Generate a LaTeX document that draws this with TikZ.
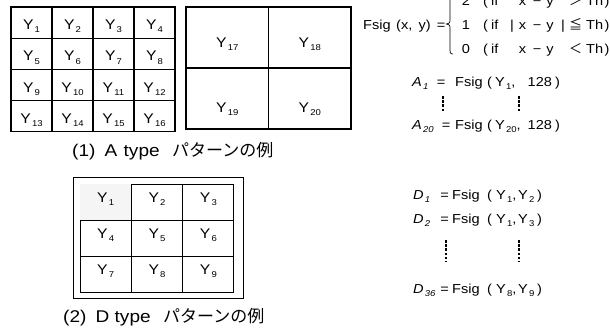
\documentclass[tikz,border=0pt]{standalone}
\usepackage{fontspec}
\setmainfont[FakeStretch=1.12]{Liberation Sans}
\newfontfamily\jpfont{Noto Sans CJK JP}
\newcommand{\subnum}[1]{\kern1.2pt\raisebox{-3.2pt}{\fontsize{8.5}{8.5}\selectfont #1}}
\newcommand{\Ysub}[1]{Y\subnum{#1}}
\newcommand{\Vsub}[2]{{\itshape #1\subnum{#2}}}
\tikzset{
  cellbox/.style={draw, line width=1.2pt, inner sep=0pt, font=\fontsize{14}{14}\selectfont},
  acell/.style={cellbox, minimum width=41pt, minimum height=31.2pt, text height=14pt, text depth=0pt},
  bcell/.style={cellbox, minimum width=82.5pt, minimum height=61pt, text depth=0pt},
  dcell/.style={cellbox, line width=1pt, minimum width=51.33pt, minimum height=36pt, text height=5pt, text depth=5pt},
  caption/.style={font=\fontsize{17}{17}\selectfont, inner sep=0pt, anchor=base west},
  formula/.style={font=\fontsize{13}{13}\selectfont, inner sep=0pt, anchor=base},
  vdots/.style={line width=1.6pt, dash pattern=on 2.6pt off 1.6pt}
}
\begin{document}
\begin{tikzpicture}[x=1pt, y=-1pt]
  \clip (0,0) rectangle (610,332);

  % A type: 4x4 grid
  \foreach \r in {0,...,3}
    \foreach \c in {0,...,3} {
      \pgfmathtruncatemacro{\n}{4*\r+\c+1}
      \node[acell] (a\n) at ({11+41*(\c+0.5)}, {7+31.2*(\r+0.5)}) {\Ysub{\n}};
    }
  % A type: 2x2 grid
  \node[bcell, text height=20pt] (a17) at (227.25,37.5) {\Ysub{17}};
  \node[bcell, text height=20pt] (a18) at (309.75,37.5) {\Ysub{18}};
  \node[bcell, text height=28pt] (a19) at (227.25,98.5) {\Ysub{19}};
  \node[bcell, text height=28pt] (a20) at (309.75,98.5) {\Ysub{20}};

  % D type: 3x3 grid in a frame
  \draw[line width=1pt] (73,177) rectangle (243,298);
  \foreach \r in {0,...,2}
    \foreach \c in {0,...,2} {
      \pgfmathtruncatemacro{\n}{3*\r+\c+1}
      \node[dcell] (d\n) at ({80+51.33*(\c+0.5)}, {184+36*(\r+0.5)}) {\Ysub{\n}};
    }
  \fill[gray!8] ([shift={(0.5,-0.5)}]d1.south west) rectangle ([shift={(-0.5,0.5)}]d1.north east);
  \node[dcell, draw=none] (d1t) at (d1) {\Ysub{1}};

  % captions
  \foreach \n/\t/\x/\y in {1/A/72/156, 2/D/63/322} {
    \node[caption] (cap\t p) at (\x,\y) {(\n)};
    \node[caption] (cap\t l) at (\x+32.5,\y) {\t};
    \node[caption] (cap\t t) at (\x+51.5,\y) {type};
    \node[caption] (cap\t j) at (\x+100,\y) {\jpfont パターンの例};
  }

  % Fsig definition
  \node[formula, anchor=base west] (fsig) at (363,29.5) {Fsig};
  \node[formula, anchor=base west] (fxy) at (396,29.5) {(x, \,y)};
  \node[formula] (feq) at (441,29.5) {=};
  \draw[line width=0.7pt] (453,-8) .. controls (450,-8) and (450,-5) .. (450,0)
    -- (450,18) .. controls (450,23) .. (446.5,24) .. controls (450,25) .. (450,30)
    -- (450,47) .. controls (450,53) and (450,54) .. (453,54);
  \foreach \v/\y/\rel in {2/5.5/＞, 1/29.5/≦, 0/53.5/＜} {
    \node[formula] (num\v) at (466,\y) {\v};
    \node[formula, anchor=base west] (if\v) at (483,\y) {(\hspace{3pt}if};
    \node[formula] (x\v) at (522.5,\y) {x};
    \node[formula] (m\v) at (537,\y) {−};
    \node[formula] (y\v) at (550,\y) {y};
    \node[formula] (rel\v) at (575.5,\y) {\jpfont\rel};
    \node[formula, anchor=base west] (th\v) at (586,\y) {Th};
    \node[formula] (rp\v) at (607,\y) {)};
  }
  \node[formula] (bar1) at (512,29.5) {|};
  \node[formula] (bar2) at (563,29.5) {|};

  % A features
  \foreach \n/\y/\e in {1/86/441, 20/129/446} {
    \node[formula, anchor=base west] (A\n) at (412,\y) {\Vsub{A}{\n}};
    \node[formula] (A\n eq) at (\e,\y) {=};
    \node[formula, anchor=base west] (A\n f) at (455,\y) {Fsig};
    \node[formula] (A\n lp) at (489.5,\y) {(};
    \node[formula, anchor=base west] (A\n y) at (495,\y) {\Ysub{\n},};
    \node[formula, anchor=base west] (A\n c) at (527.5,\y) {128};
    \node[formula] (A\n rp) at (557.5,\y) {)};
  }
  \coordinate (av1) at (443,96);
  \coordinate (av2) at (443,112);
  \coordinate (av3) at (519,96);
  \coordinate (av4) at (519,112);
  \draw[vdots] (av1) -- (av2);
  \draw[vdots] (av3) -- (av4);

  % D features
  \foreach \n/\y/\p/\q in {1/199/1/2, 2/223/1/3, 36/293/8/9} {
    \node[formula, anchor=base west] (D\n) at (413,\y) {\Vsub{D}{\n}};
    \node[formula] (D\n eq) at (444.5,\y) {=};
    \node[formula, anchor=base west] (D\n f) at (452,\y) {Fsig};
    \node[formula] (D\n lp) at (489.5,\y) {(};
    \node[formula, anchor=base west] (D\n a) at (496,\y) {\Ysub{\p},};
    \node[formula, anchor=base west] (D\n b) at (518,\y) {\Ysub{\q}};
    \node[formula] (D\n rp) at (539.5,\y) {)};
  }
  \coordinate (dv1) at (446,240);
  \coordinate (dv2) at (446,262);
  \coordinate (dv3) at (519,240);
  \coordinate (dv4) at (519,262);
  \draw[vdots] (dv1) -- (dv2);
  \draw[vdots] (dv3) -- (dv4);
\end{tikzpicture}
\end{document}
